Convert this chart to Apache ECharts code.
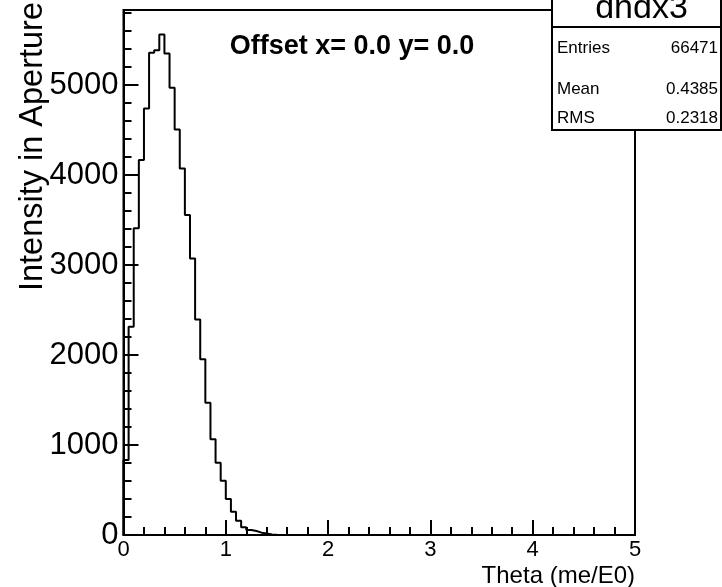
<!DOCTYPE html>
<html>
<head>
<meta charset="utf-8">
<script src="https://cdn.jsdelivr.net/npm/echarts@6/dist/echarts.min.js"></script>
<style>
html,body{margin:0;padding:0;background:#fff;}
#c{width:722px;height:587px;}
</style>
</head>
<body>
<div id="c"></div>
<script>
// Histogram "dndx3": 100 bins from 0 to 5 (width 0.05)
const histName = "dndx3";
const binLow = 0;
const binWidth = 0.05;
const counts = [
  833, 2314, 3408, 4167, 4741, 5359, 5389, 5563, 5352, 4970,
  4508, 4074, 3556, 3074, 2396, 1952, 1470, 1063, 803, 603,
  400, 259, 159, 85, 56, 44, 26, 18, 6, 3,
  1, 0, 0, 0, 0, 0, 0, 0, 0, 0,
  0, 0, 0, 0, 0, 0, 0, 0, 0, 0,
  0, 0, 0, 0, 0, 0, 0, 0, 0, 0,
  0, 0, 0, 0, 0, 0, 0, 0, 0, 0,
  0, 0, 0, 0, 0, 0, 0, 0, 0, 0,
  0, 0, 0, 0, 0, 0, 0, 0, 0, 0,
  0, 0, 0, 0, 0, 0, 0, 0, 0, 0
];
const xTicks = [0, 1, 2, 3, 4, 5];
const yTicks = [0, 1000, 2000, 3000, 4000, 5000];
const statLabels = ["Entries", "Mean", "RMS"];
const statValues = ["66471", "0.4385", "0.2318"];
const xTitle = "Theta (me/E0)";
const yTitle = "Intensity in Aperture";
const offsetText = "Offset x= 0.0 y= 0.0";

// build outline points (bin edges)
const outline = [[binLow, 0]];
counts.forEach((v, i) => {
  const lo = binLow + i * binWidth;
  const hi = binLow + (i + 1) * binWidth;
  outline.push([lo, v], [hi, v]);
});
outline.push([binLow + counts.length * binWidth, 0]);

const FONT = "'Liberation Sans', Arial, Helvetica, sans-serif";
const chart = echarts.init(document.getElementById('c'), null, {renderer: 'canvas'});

const statGraphics = [];
const boxL = 552, boxR = 721, boxT = 0, boxB = 130;
statGraphics.push({
  type: 'rect', shape: {x: boxL, y: boxT - 2, width: boxR - boxL, height: boxB - boxT + 2},
  style: {fill: '#fff', stroke: '#000', lineWidth: 2}, z: 100
});
statGraphics.push({
  type: 'line', shape: {x1: boxL, y1: 27, x2: boxR, y2: 27},
  style: {stroke: '#000', lineWidth: 2}, z: 101
});
statGraphics.push({
  type: 'text', x: (boxL + boxR) / 2 + 5, y: 9, z: 101,
  style: {text: histName, font: '34px ' + FONT, fill: '#000', align: 'center', verticalAlign: 'middle'}
});
const rowY = [48, 89, 118];
statLabels.forEach((lab, i) => {
  statGraphics.push({
    type: 'text', x: boxL + 5, y: rowY[i], z: 101,
    style: {text: lab, font: '17px ' + FONT, fill: '#000', align: 'left', verticalAlign: 'middle'}
  });
  statGraphics.push({
    type: 'text', x: boxR - 3, y: rowY[i], z: 101,
    style: {text: statValues[i], font: '17px ' + FONT, fill: '#000', align: 'right', verticalAlign: 'middle'}
  });
});

chart.setOption({
  animation: false,
  backgroundColor: '#fff',
  grid: {left: 123.5, right: 87, top: 10, bottom: 52, show: true, borderColor: '#000', borderWidth: 2, backgroundColor: 'transparent'},
  xAxis: {
    type: 'value', min: xTicks[0], max: xTicks[xTicks.length - 1], interval: 1,
    axisLine: {show: true, lineStyle: {color: '#000', width: 2}},
    axisTick: {show: true, inside: true, length: 15, lineStyle: {color: '#000', width: 2}},
    minorTick: {show: true, splitNumber: 5, length: 8, lineStyle: {color: '#000', width: 2}},
    splitLine: {show: false},
    axisLabel: {color: '#000', fontSize: 22, fontFamily: FONT, margin: 4}
  },
  yAxis: {
    type: 'value', min: 0, max: 5835, interval: 1000,
    axisLine: {show: true, lineStyle: {color: '#000', width: 2}},
    axisTick: {show: true, inside: true, length: 15, lineStyle: {color: '#000', width: 2}},
    minorTick: {show: true, splitNumber: 5, length: 8, lineStyle: {color: '#000', width: 2}},
    splitLine: {show: false},
    axisLabel: {color: '#000', fontSize: 31, fontFamily: FONT, margin: 5,
      formatter: v => (yTicks.indexOf(v) >= 0 ? String(v) : '')}
  },
  series: [{
    type: 'line', data: outline, symbol: 'none', silent: true,
    lineStyle: {color: '#000', width: 2}
  }],
  graphic: [
    {type: 'text', x: 352, y: 47, z: 50,
     style: {text: offsetText, font: 'bold 27px ' + FONT, fill: '#000', align: 'center', verticalAlign: 'middle'}},
    {type: 'text', x: 635, y: 576, z: 50,
     style: {text: xTitle, font: '24px ' + FONT, fill: '#000', align: 'right', verticalAlign: 'middle'}},
    {type: 'text', x: 33, y: 2, rotation: Math.PI / 2, z: 50,
     style: {text: yTitle, font: '32.5px ' + FONT, fill: '#000', align: 'right', verticalAlign: 'middle'}}
  ].concat(statGraphics)
});
</script>
</body>
</html>
